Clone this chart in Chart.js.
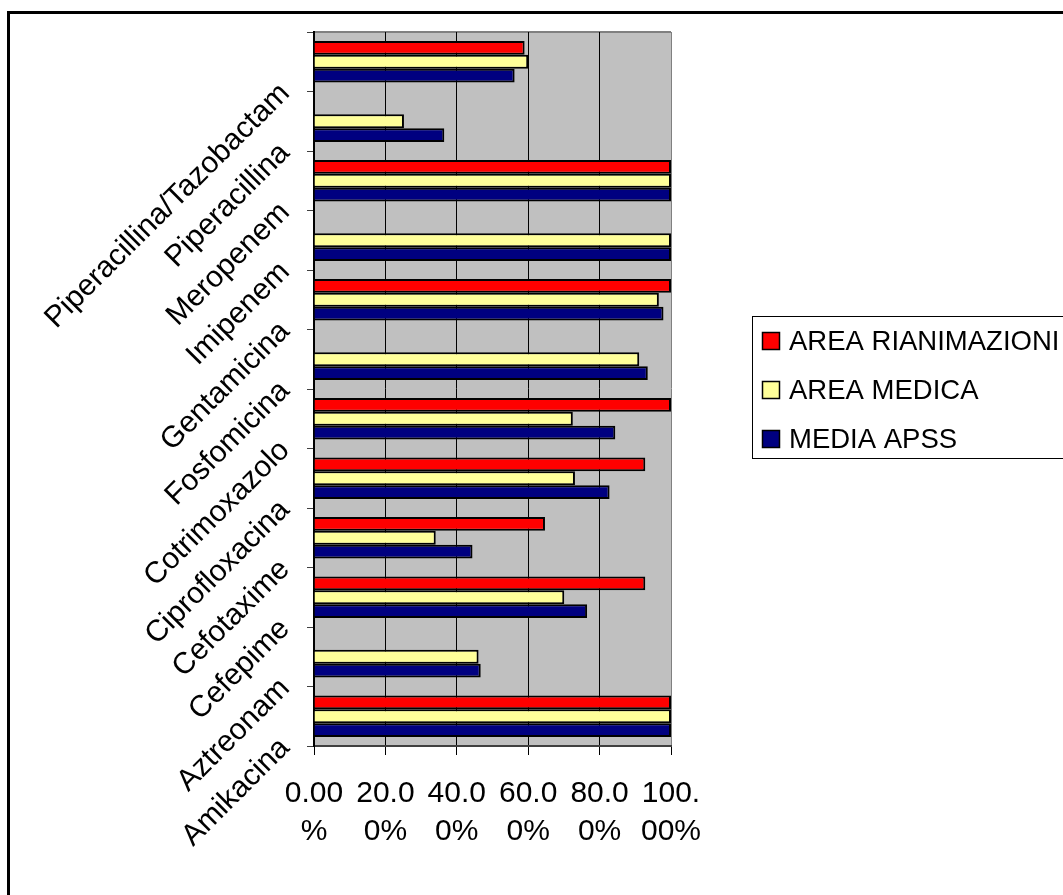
<!DOCTYPE html>
<html>
<head>
<meta charset="utf-8">
<script src="https://cdn.jsdelivr.net/npm/chart.js@4.4.0/dist/chart.umd.min.js"></script>
<style>
  html, body { margin: 0; padding: 0; background: #fff; overflow: hidden; }
  #wrap { position: relative; width: 1063px; height: 895px; }
</style>
</head>
<body>
<div id="wrap"><canvas id="chart" width="1063" height="895"></canvas></div>
<script>
// categories, top to bottom
var antibiotici = ["Piperacillina/Tazobactam", "Piperacillina", "Meropenem", "Imipenem",
    "Gentamicina", "Fosfomicina", "Cotrimoxazolo", "Ciprofloxacina",
    "Cefotaxime", "Cefepime", "Aztreonam", "Amikacina"];

// percent values (null = no bar)
var areaRianimazioni = [59.0, null, 100, null, 100, null, 100, 92.8, 64.7, 92.8, null, 100];
var areaMedica       = [60.0, 25.2, 100, 100, 96.6, 91.1, 72.5, 73.1, 34.1, 70.1, 46.1, 100];
var mediaApss        = [56.2, 36.5, 100, 100, 97.9, 93.5, 84.4, 82.8, 44.4, 76.5, 46.7, 100];

var seriesNames = ["AREA RIANIMAZIONI", "AREA MEDICA", "MEDIA APSS"];
var xTickLabels = [["0.00", "%"], ["20.0", "0%"], ["40.0", "0%"], ["60.0", "0%"], ["80.0", "0%"], ["100.", "00%"]];

var FONT = '"Liberation Sans", Arial, sans-serif';

// gray plot background + top edge
const plotBack = {
    id: 'plotBack',
    beforeDraw(chart) {
        const a = chart.chartArea, ctx = chart.ctx;
        ctx.save();
        ctx.fillStyle = '#C0C0C0';
        ctx.fillRect(a.left, a.top, a.right - a.left, a.bottom - a.top);
        ctx.strokeStyle = '#808080';
        ctx.lineWidth = 2;
        ctx.beginPath();
        ctx.moveTo(a.left, a.top);
        ctx.lineTo(a.right, a.top);
        ctx.stroke();
        ctx.restore();
    }
};

// legend box on the right and outer frame
const legendBox = {
    id: 'legendBox',
    afterDraw(chart) {
        const ctx = chart.ctx;
        ctx.save();
        ctx.strokeStyle = '#000';
        ctx.lineWidth = 3;
        ctx.strokeRect(8.5, 12.5, 1200, 1000);

        ctx.lineWidth = 1;
        ctx.strokeRect(752.5, 316.5, 400, 142);
        ctx.font = '27.5px ' + FONT;
        ctx.textBaseline = 'middle';
        chart.data.datasets.forEach(function (ds, i) {
            var cy = 341 + i * 49;
            ctx.fillStyle = ds.backgroundColor;
            ctx.fillRect(762, cy - 9, 18, 18);
            ctx.strokeStyle = '#000';
            ctx.lineWidth = 1.5;
            ctx.strokeRect(762.5, cy - 8.5, 17, 17);
            ctx.fillStyle = '#000';
            ctx.fillText(ds.label, 789, cy + 1);
        });
        ctx.restore();
    }
};

const ctx = document.getElementById("chart").getContext("2d");
new Chart(ctx, {
    type: "bar",
    data: {
        labels: antibiotici,
        datasets: [
            { label: seriesNames[0], data: areaRianimazioni, backgroundColor: "#FF0000" },
            { label: seriesNames[1], data: areaMedica, backgroundColor: "#FFFF99" },
            { label: seriesNames[2], data: mediaApss, backgroundColor: "#000080" }
        ]
    },
    options: {
        indexAxis: "y",
        responsive: false,
        animation: false,
        devicePixelRatio: 1,
        layout: { padding: { left: 10, top: 32, right: 392, bottom: 49 } },
        datasets: {
            bar: {
                categoryPercentage: 0.7,
                barPercentage: 1.0,
                borderColor: "#000",
                borderWidth: 2
            }
        },
        plugins: {
            legend: { display: false },
            tooltip: { enabled: false }
        },
        scales: {
            x: {
                min: 0,
                max: 100,
                ticks: {
                    stepSize: 20,
                    autoSkip: false,
                    maxRotation: 0,
                    color: "#000",
                    padding: 20,
                    font: { family: FONT, size: 30, lineHeight: 1.25 },
                    callback: function (v, i) { return xTickLabels[i]; }
                },
                grid: {
                    color: function (c) { return c.tick && c.tick.value === 100 ? "#808080" : "#000"; },
                    lineWidth: 1,
                    tickLength: 9,
                    tickColor: "#000"
                },
                border: { color: "#404040", width: 2 },
                afterFit: function (s) {
                    s.height = 100;
                    s.paddingLeft = 0;
                    s.paddingRight = 0;
                }
            },
            y: {
                ticks: {
                    autoSkip: false,
                    minRotation: 45,
                    maxRotation: 45,
                    labelOffset: 27,
                    padding: 22,
                    color: "#000",
                    font: { family: FONT, size: 30 }
                },
                grid: {
                    drawOnChartArea: false,
                    tickLength: 7,
                    tickColor: "#404040",
                    offset: true
                },
                border: { color: "#000", width: 2 },
                afterFit: function (s) {
                    s.width = 304;
                    s.paddingTop = 0;
                    s.paddingBottom = 0;
                }
            }
        }
    },
    plugins: [plotBack, legendBox]
});
</script>
</body>
</html>
